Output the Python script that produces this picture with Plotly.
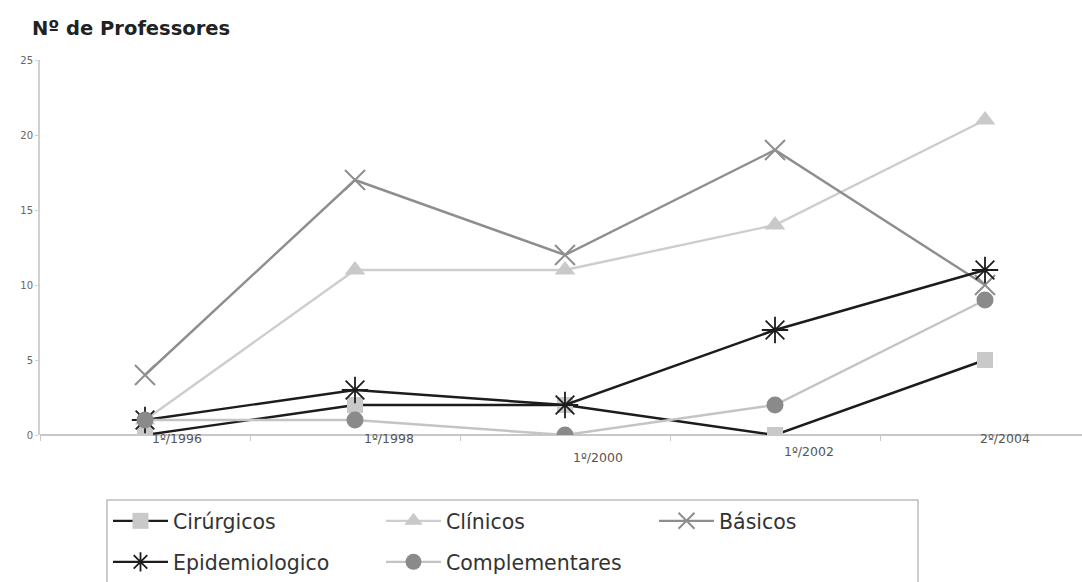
import plotly.graph_objects as go

# Periods on the category axis
periods = ["1º/1996", "1º/1998", "1º/2000", "1º/2002", "2º/2004"]

# Number of professors per group
cirurgicos = [0, 2, 2, 0, 5]
clinicos = [1, 11, 11, 14, 21]
basicos = [4, 17, 12, 19, 10]
epidemiologico = [1, 3, 2, 7, 11]
complementares = [1, 1, 0, 2, 9]

FONT = "DejaVu Sans, Liberation Sans, Arial, sans-serif"

fig = go.Figure()

fig.add_trace(go.Scatter(
    x=periods, y=cirurgicos, name="Cirúrgicos", mode="lines+markers",
    line=dict(color="#1c1c1c", width=2.4),
    marker=dict(symbol="square", size=16, color="#c9c9c9"),
    legend="legend",
))
fig.add_trace(go.Scatter(
    x=periods, y=clinicos, name="Clínicos", mode="lines+markers",
    line=dict(color="#cdcdcd", width=2.4),
    marker=dict(symbol="triangle-up", size=18, color="#c9c9c9"),
    legend="legend",
))
fig.add_trace(go.Scatter(
    x=periods, y=basicos, name="Básicos", mode="lines+markers",
    line=dict(color="#8e8e8e", width=2.4),
    marker=dict(symbol="x-thin-open", size=20, color="#8e8e8e",
                line=dict(width=2, color="#8e8e8e")),
    legend="legend",
))
fig.add_trace(go.Scatter(
    x=periods, y=epidemiologico, name="Epidemiologico", mode="lines+markers",
    line=dict(color="#1c1c1c", width=2.4),
    marker=dict(symbol="asterisk-open", size=22, color="#1c1c1c",
                line=dict(width=1.8, color="#1c1c1c")),
    legend="legend2",
))
fig.add_trace(go.Scatter(
    x=periods, y=complementares, name="Complementares", mode="lines+markers",
    line=dict(color="#c4c4c4", width=2.4),
    marker=dict(symbol="circle", size=17, color="#8a8a8a"),
    legend="legend2",
))

# Category labels sit beside the axis, each nudged individually
label_dx = [5, 7, 6, 7, -7]
label_dy = [-3, -3, -22, -16, -3]
for i, lab in enumerate(periods):
    fig.add_annotation(
        x=lab, y=0, xref="x", yref="y", text=lab, showarrow=False,
        xanchor="left", yanchor="middle", xshift=label_dx[i], yshift=label_dy[i],
        font=dict(family=FONT, size=12.5, color="#555555"),
    )

# Chart title
fig.add_annotation(
    x=(30 - 40) / 1042, y=(435 - 28) / 375, xref="paper", yref="paper",
    text="<b>Nº de Professores</b>", showarrow=False,
    xanchor="left", yanchor="middle",
    font=dict(family=FONT, size=19.5, color="#222222"),
)

# Legend frame
fig.add_shape(
    type="rect", xref="paper", yref="paper",
    x0=(107 - 40) / 1042, x1=(918 - 40) / 1042,
    y0=(435 - 500) / 375, y1=(435 - 600) / 375,
    line=dict(color="#bdbdbd", width=1.5), fillcolor="rgba(0,0,0,0)",
    layer="below",
)

legend_common = dict(
    orientation="h", xanchor="left", yanchor="middle",
    font=dict(family=FONT, size=20.5, color="#333333"),
    bgcolor="rgba(0,0,0,0)", borderwidth=0,
    itemwidth=55, entrywidth=203, entrywidthmode="pixels",
)

fig.update_layout(
    width=1082, height=582,
    margin=dict(l=40, r=0, t=60, b=147),
    paper_bgcolor="white", plot_bgcolor="white",
    font=dict(family=FONT),
    legend=dict(x=(108 - 40) / 1042, y=(435 - 521) / 375, **legend_common),
    legend2=dict(x=(108 - 40) / 1042, y=(435 - 562) / 375, **legend_common),
    xaxis=dict(
        type="category", range=[-0.5, -0.5 + 1042 / 210],
        showgrid=False, zeroline=False, showticklabels=False,
        ticks="outside", tickson="boundaries", ticklen=5, tickcolor="#c8c8c8",
        showline=False, fixedrange=True,
    ),
    yaxis=dict(
        range=[0, 25], dtick=5, showgrid=False, zeroline=True,
        zerolinecolor="#c8c8c8", zerolinewidth=1.5,
        showline=True, linecolor="#d0d0d0", linewidth=2,
        ticks="outside", ticklen=3, tickcolor="#d0d0d0",
        tickfont=dict(family=FONT, size=10, color="#666666"),
        fixedrange=True,
    ),
)

fig.write_html("out.html")
